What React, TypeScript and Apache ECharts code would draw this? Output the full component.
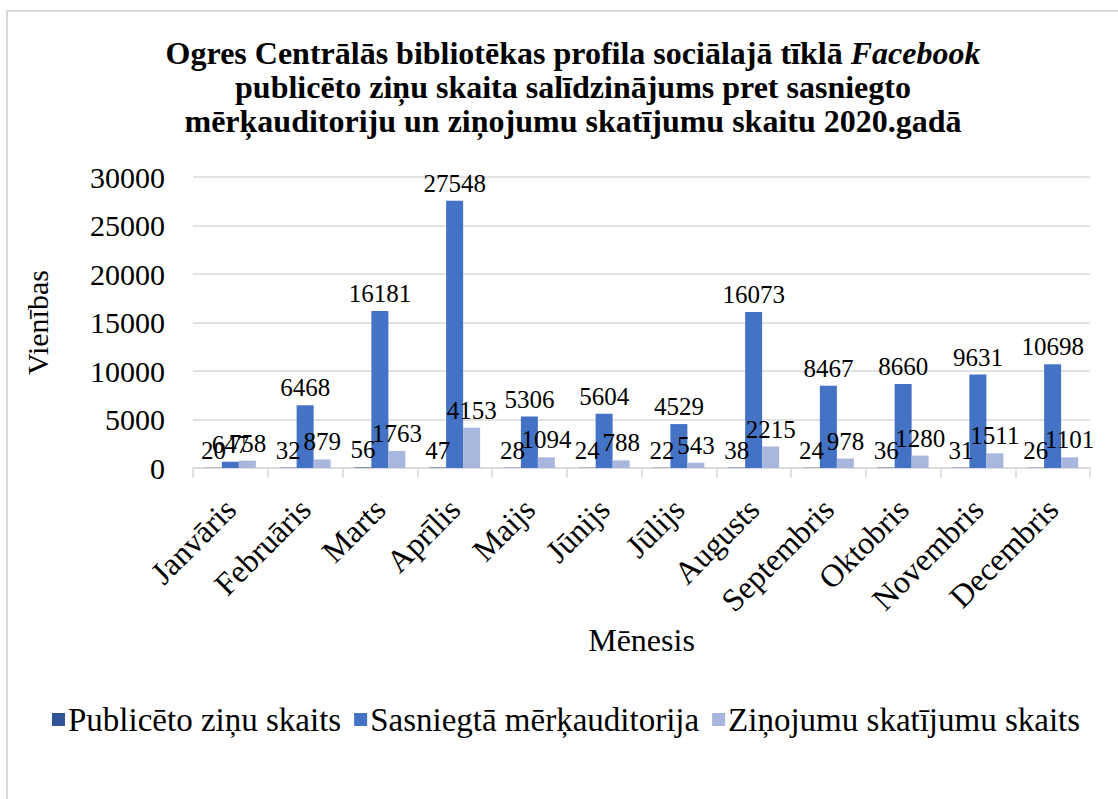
import React, { useEffect, useRef } from "react";
import * as echarts from "echarts";

const categories = ["Janvāris", "Februāris", "Marts", "Aprīlis", "Maijs", "Jūnijs", "Jūlijs", "Augusts", "Septembris", "Oktobris", "Novembris", "Decembris"];
const publiceto = [20, 32, 56, 47, 28, 24, 22, 38, 24, 36, 31, 26];
const sasniegta = [647, 6468, 16181, 27548, 5306, 5604, 4529, 16073, 8467, 8660, 9631, 10698];
const zinojumu = [758, 879, 1763, 4153, 1094, 788, 543, 2215, 978, 1280, 1511, 1101];
const seriesNames = ["Publicēto ziņu skaits", "Sasniegtā mērķauditorija", "Ziņojumu skatījumu skaits"];
const colors = ["#2F5597", "#4472C4", "#A9B7DE"];

const FONT = "Liberation Serif, Times New Roman, serif";

export default function App() {
  const ref = useRef<HTMLDivElement>(null);
  useEffect(() => {
    if (!ref.current) return;
    document.body.style.margin = "0";
    const chart = echarts.init(ref.current, null, { renderer: "svg" });
    const label = {
      show: true,
      position: "top" as const,
      distance: 5,
      color: "#000",
      fontFamily: FONT,
      fontSize: 25,
    };
    chart.setOption({
      animation: false,
      textStyle: { fontFamily: FONT },
      title: {
        left: 568,
        top: 31,
        textAlign: "center",
        text:
          "{b|Ogres Centrālās bibliotēkas profila sociālajā tīklā }{i|Facebook}\n{b|publicēto ziņu skaita salīdzinājums pret sasniegto}\n{b|mērķauditoriju un ziņojumu skatījumu skaitu 2020.gadā}",
        textStyle: {
          rich: {
            b: { fontFamily: FONT, fontSize: 32, fontWeight: "bold", color: "#000", lineHeight: 34 },
            i: { fontFamily: FONT, fontSize: 32, fontWeight: "bold", fontStyle: "italic", color: "#000", lineHeight: 34 },
          },
        },
      },
      graphic: [
        {
          type: "rect",
          shape: { x: 7, y: 11, width: 1130, height: 820 },
          style: { fill: "none", stroke: "#D9D9D9", lineWidth: 2 },
          silent: true,
        },
      ],
      legend: {
        top: 698,
        left: 47,
        itemWidth: 13,
        itemHeight: 13,
        itemGap: 13,
        icon: "rect",
        textStyle: { fontFamily: FONT, fontSize: 33, color: "#000", padding: [0, 0, 0, -2] },
        data: seriesNames,
      },
      grid: { left: 193, right: 28, top: 177, bottom: 331 },
      xAxis: {
        type: "category",
        data: categories,
        name: "Mēnesis",
        nameLocation: "middle",
        nameGap: 156,
        nameTextStyle: { fontFamily: FONT, fontSize: 32, color: "#000" },
        axisLine: { lineStyle: { color: "#D9D9D9", width: 1.5 } },
        axisTick: { show: true, length: 10, lineStyle: { color: "#D9D9D9", width: 1.5 } },
        axisLabel: { rotate: 45, interval: 0, fontFamily: FONT, fontSize: 32, color: "#000", margin: 36 },
      },
      yAxis: {
        type: "value",
        min: 0,
        max: 30000,
        interval: 5000,
        name: "Vienības",
        nameLocation: "middle",
        nameGap: 141,
        nameTextStyle: { fontFamily: FONT, fontSize: 30, color: "#000" },
        axisLine: { show: false },
        axisTick: { show: false },
        splitLine: { lineStyle: { color: "#D9D9D9", width: 1.5 } },
        axisLabel: { fontFamily: FONT, fontSize: 30, color: "#000", margin: 28, formatter: (v: number) => String(v) },
      },
      series: [
        { name: seriesNames[0], type: "bar", data: publiceto, itemStyle: { color: colors[0] }, barWidth: 17, barGap: "0%", label },
        { name: seriesNames[1], type: "bar", data: sasniegta, itemStyle: { color: colors[1] }, barWidth: 17, barGap: "0%", label },
        { name: seriesNames[2], type: "bar", data: zinojumu, itemStyle: { color: colors[2] }, barWidth: 17, barGap: "0%", label },
      ],
    });
    return () => chart.dispose();
  }, []);
  return <div ref={ref} style={{ width: 1118, height: 799 }} />;
}
